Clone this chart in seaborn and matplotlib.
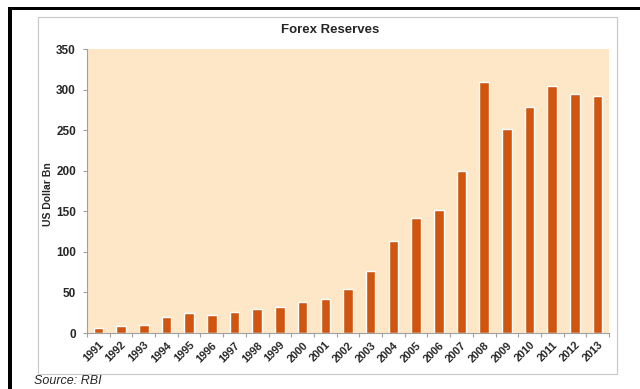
import matplotlib
matplotlib.use("Agg")
import matplotlib.pyplot as plt
import seaborn as sns
import pandas as pd
from matplotlib.patches import Rectangle

years = ["1991", "1992", "1993", "1994", "1995", "1996", "1997", "1998", "1999", "2000",
         "2001", "2002", "2003", "2004", "2005", "2006", "2007", "2008", "2009", "2010",
         "2011", "2012", "2013"]
reserves = [5.8, 9.2, 9.8, 19.3, 25.2, 21.7, 26.4, 29.4, 32.5, 38.0,
            42.3, 54.1, 76.1, 113.0, 141.5, 151.6, 199.2, 309.7, 252.0, 279.1,
            304.8, 294.4, 292.0]
yticks = [0, 50, 100, 150, 200, 250, 300, 350]

df = pd.DataFrame({"year": years, "reserves": reserves})

sns.set_theme(style="white")
plt.rcParams["font.family"] = ["Liberation Sans", "DejaVu Sans"]

W, H = 640, 389
fig = plt.figure(figsize=(6.4, 3.89), dpi=100)
ax_left, ax_right, ax_top, ax_bot = 87, 609, 49, 333
ax = fig.add_axes([ax_left / W, 1 - ax_bot / H, (ax_right - ax_left) / W, (ax_bot - ax_top) / H])
ax.set_facecolor("#FDE7C6")

sns.barplot(data=df, x="year", y="reserves", color="#D0550F", width=0.42,
            saturation=1, ax=ax)

ax.set_ylim(0, 350)
ax.set_xlim(-0.5, len(years) - 0.5)
ax.set_yticks(yticks)
ax.set_yticklabels([str(v) for v in yticks], fontsize=8.5, fontweight="bold")
ax.set_xticks(range(len(years)))
ax.set_xticklabels(years, rotation=45, ha="right", rotation_mode="anchor",
                   fontsize=7.8, fontweight="bold")
ax.set_xticks([i - 0.5 for i in range(len(years) + 1)], minor=True)
ax.tick_params(axis="x", which="major", length=0, pad=5)
ax.tick_params(axis="x", which="minor", length=3, color="#A0A0A0", width=0.8, bottom=True)
ax.tick_params(axis="y", length=3, color="#A0A0A0", width=0.8, left=True, pad=5)
ax.set_xlabel("")
ax.set_ylabel("US Dollar Bn", fontsize=7.5, fontweight="bold")
ax.yaxis.set_label_coords((53 - ax_left) / (ax_right - ax_left), 0.49)
for s in ["top", "right"]:
    ax.spines[s].set_visible(False)
for s in ["left", "bottom"]:
    ax.spines[s].set_color("#A0A0A0")
    ax.spines[s].set_linewidth(0.8)

fig.text(330 / W, 1 - 30 / H, "Forex Reserves", ha="center", va="center",
         fontsize=9.5, fontweight="bold")
fig.text(34 / W, 1 - 381 / H, "Source: RBI", ha="left", va="center",
         fontsize=9, style="italic")

# chart frame
fig.patches.append(Rectangle((38 / W, 1 - 374 / H), (617 - 38) / W, (374 - 17) / H,
                             transform=fig.transFigure, fill=False,
                             edgecolor="#C8C8C8", linewidth=0.8))
# black outer lines
fig.patches.append(Rectangle((8 / W, 1 - 10 / H), (W - 8) / W, 3 / H,
                             transform=fig.transFigure, facecolor="black",
                             edgecolor="none"))
fig.patches.append(Rectangle((8 / W, 0), 4 / W, 1 - 7 / H,
                             transform=fig.transFigure, facecolor="black",
                             edgecolor="none"))

fig.savefig("out.png", dpi=100)
